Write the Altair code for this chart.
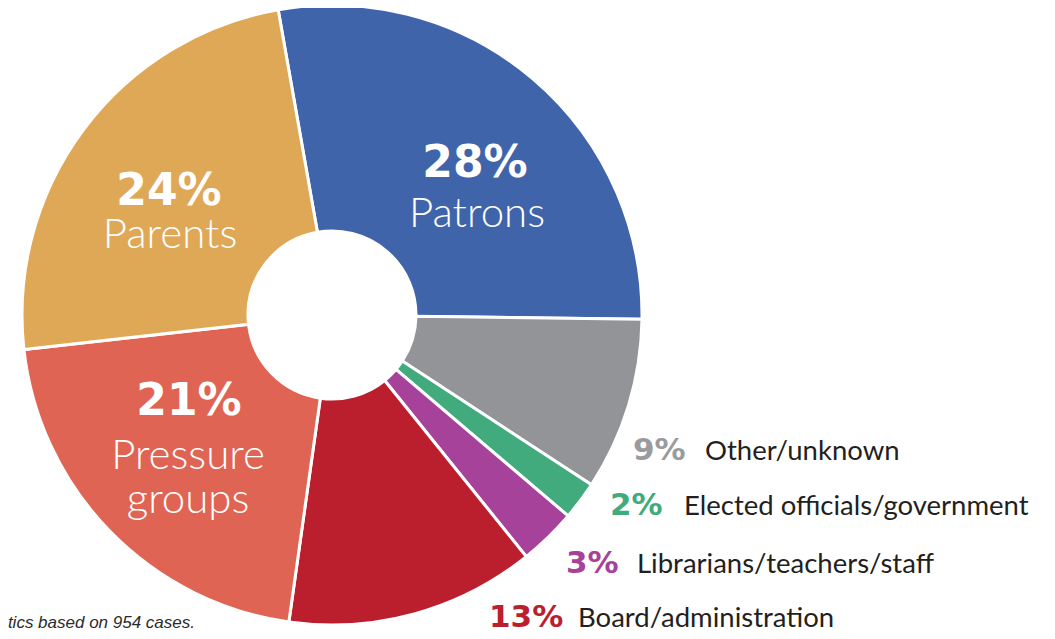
import math
import altair as alt
import pandas as pd

# ---- data ----
categories = ["Patrons", "Other/unknown", "Elected officials/government",
              "Librarians/teachers/staff", "Board/administration",
              "Pressure groups", "Parents"]
values = [28, 9, 2, 3, 13, 21, 24]
colors = ["#4064AA", "#929497", "#41AB7E", "#A6429A", "#BB1E2D", "#E06453", "#DFA857"]
pct_colors = ["#FFFFFF", "#9A9B9E", "#41AB7E", "#A6429A", "#BB1E2D", "#FFFFFF", "#FFFFFF"]
name_lines = ["Patrons", "Other/unknown", "Elected officials/government",
              "Librarians/teachers/staff", "Board/administration",
              "Pressure\ngroups", "Parents"]
inside = [True, False, False, False, False, True, True]
footnote = "Statistics based on 954 cases."

# ---- layout (pixel positions of annotations, chart coordinates) ----
pct_x = [467, 625, 602, 558, 481, 181, 161]
pct_y = [169, 452, 507, 565, 619, 407, 197]
name_x = [469, 697, 676, 629, 570, 180, 162]
name_y = [219, 452, 507, 565, 619, 461, 240]
CX, CY = 324, 307
START = math.radians(-10)

df = pd.DataFrame({
    "category": categories,
    "value": values,
    "order": list(range(len(values))),
})

lab = pd.DataFrame({
    "category": categories,
    "pct": [f"{v}%" for v in values],
    "name": name_lines,
    "inside": inside,
    "pct_color": pct_colors,
    "px": pct_x, "py": pct_y, "nx": name_x, "ny": name_y,
})
lab_in = lab[lab["inside"]]
lab_out = lab[~lab["inside"]]

arcs = alt.Chart(df).mark_arc(
    innerRadius=84, outerRadius=310, stroke="white", strokeWidth=3
).encode(
    theta=alt.Theta("value:Q", stack=True,
                    scale=alt.Scale(domain=[0, 100], range=[START, START + 2 * math.pi])),
    color=alt.Color("category:N", scale=alt.Scale(domain=categories, range=colors), legend=None),
    order=alt.Order("order:Q"),
    x=alt.value(CX),
    y=alt.value(CY),
)

pct_in = alt.Chart(lab_in).mark_text(
    font="DejaVu Sans", fontWeight="bold", fontSize=44, align="center",
    baseline="alphabetic", color="white"
).encode(x=alt.X("px:Q", scale=None), y=alt.Y("py:Q", scale=None), text="pct:N")

name_in = alt.Chart(lab_in).mark_text(
    font="Lato", fontWeight=300, fontSize=42, align="center",
    baseline="alphabetic", color="white", lineBreak="\n", lineHeight=44
).encode(x=alt.X("nx:Q", scale=None), y=alt.Y("ny:Q", scale=None), text="name:N")

pct_out = alt.Chart(lab_out).mark_text(
    font="DejaVu Sans", fontWeight="bold", fontSize=31, align="left",
    baseline="alphabetic"
).encode(x=alt.X("px:Q", scale=None), y=alt.Y("py:Q", scale=None), text="pct:N",
         color=alt.Color("pct_color:N", scale=None))

name_out = alt.Chart(lab_out).mark_text(
    font="Lato", fontWeight="normal", fontSize=27.5, align="left",
    baseline="alphabetic", color="#231F20"
).encode(x=alt.X("nx:Q", scale=None), y=alt.Y("ny:Q", scale=None), text="name:N")

foot = alt.Chart(pd.DataFrame({"t": [footnote]})).mark_text(
    font="Liberation Sans", fontStyle="italic", fontSize=17, align="right",
    baseline="alphabetic", color="#2b2b2b"
).encode(x=alt.value(187), y=alt.value(620), text="t:N")

chart = alt.layer(arcs, pct_in, name_in, pct_out, name_out, foot).properties(
    width=1039, height=623, padding=0, autosize="none"
).configure_view(stroke=None)

chart.save("out.html", embed_options={"renderer": "svg", "actions": False})
